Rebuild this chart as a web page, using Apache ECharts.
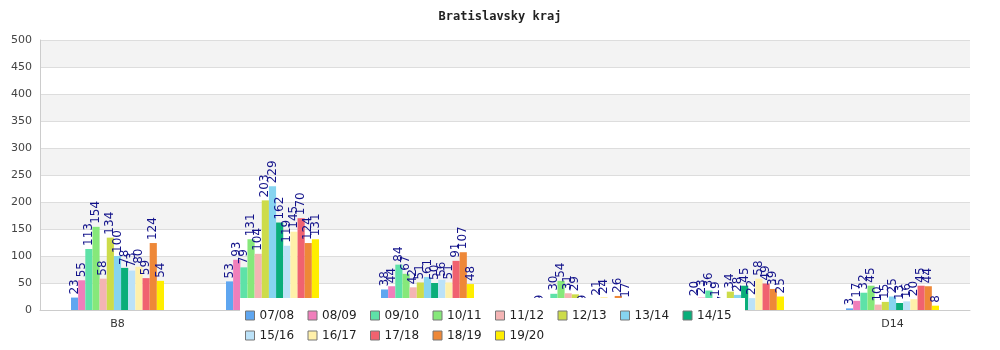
<!DOCTYPE html>
<html>
<head>
<meta charset="utf-8">
<script src="https://cdn.jsdelivr.net/npm/echarts@6/dist/echarts.min.js"></script>
<style>
  html, body { margin: 0; padding: 0; background: #fff; }
  #chart { width: 1000px; height: 350px; }
</style>
</head>
<body>
<div id="chart"></div>
<script>
// Districts (x categories)
const districts = ['B8', 'C3', 'C9', 'D2', 'D7', 'D14'];

// School years (one bar series each)
const years = ['07/08', '08/09', '09/10', '10/11', '11/12', '12/13', '13/14',
               '14/15', '15/16', '16/17', '17/18', '18/19', '19/20'];

// Values per school year, one entry per district
const y0708 = [23, 53, 38, 9, 20, 3];
const y0809 = [55, 93, 44, 3, 23, 17];
const y0910 = [113, 79, 84, 30, 36, 32];
const y1011 = [154, 131, 67, 54, 19, 45];
const y1112 = [58, 104, 42, 31, 7, 10];
const y1213 = [134, 203, 51, 29, 34, 15];
const y1314 = [100, 229, 61, 9, 28, 25];
const y1415 = [78, 162, 50, 2, 45, 13];
const y1516 = [73, 119, 56, 21, 22, 16];
const y1617 = [80, 145, 51, 24, 58, 20];
const y1718 = [59, 170, 91, 0, 49, 45];
const y1819 = [124, 124, 107, 26, 39, 44];
const y1920 = [54, 131, 48, 17, 25, 8];

const seriesValues = [y0708, y0809, y0910, y1011, y1112, y1213, y1314,
                      y1415, y1516, y1617, y1718, y1819, y1920];

const colors = ['#5fa6f0', '#f07fbb', '#5ee2a8', '#86e87a', '#f4b4b4', '#cddc4a', '#86d4f0',
                '#0aae7a', '#bce2f8', '#fff0aa', '#f06270', '#ee8838', '#ffee00'];

// Y-axis ticks
const yMin = 0, yMax = 500, yStep = 50;

const chart = echarts.init(document.getElementById('chart'), null, { renderer: 'canvas' });

const series = years.map((name, i) => ({
  name: name,
  type: 'bar',
  data: seriesValues[i],
  barGap: '0%',
  barCategoryGap: '40%',
  itemStyle: { color: colors[i] },
  label: {
    show: true,
    position: 'top',
    rotate: 90,
    align: 'left',
    verticalAlign: 'middle',
    distance: 3,
    color: '#12128a',
    fontFamily: 'DejaVu Sans',
    fontSize: 12
  }
}));

chart.setOption({
  animation: false,
  backgroundColor: '#ffffff',
  color: colors,
  title: {
    text: 'Bratislavsky kraj',
    left: 'center',
    top: 6,
    textStyle: {
      fontFamily: 'DejaVu Sans Mono',
      fontWeight: 'bold',
      fontSize: 12,
      color: '#222'
    }
  },
  grid: { left: 40, right: 30, top: 40, bottom: 40, containLabel: false },
  legend: {
    data: years,
    left: 240,
    top: 298,
    width: 502,
    padding: [10, 5, 5, 5],
    backgroundColor: '#ffffff',
    itemWidth: 9,
    itemHeight: 9,
    itemGap: 5,
    icon: 'rect',
    itemStyle: { borderColor: '#777', borderWidth: 1 },
    textStyle: {
      fontFamily: 'DejaVu Sans',
      fontSize: 12,
      color: '#222',
      width: 43,
      lineHeight: 15
    }
  },
  xAxis: {
    type: 'category',
    data: districts,
    axisLine: { lineStyle: { color: '#cccccc' } },
    axisTick: { show: false },
    axisLabel: {
      fontFamily: 'DejaVu Sans',
      fontSize: 11,
      color: '#333',
      margin: 9
    },
    z: 1
  },
  yAxis: {
    type: 'value',
    min: yMin,
    max: yMax,
    interval: yStep,
    axisLine: { show: true, lineStyle: { color: '#cccccc' } },
    axisTick: { show: false },
    axisLabel: {
      fontFamily: 'DejaVu Sans',
      fontSize: 11,
      color: '#444',
      margin: 8
    },
    splitLine: { lineStyle: { color: '#dddddd' } },
    splitArea: { show: true, areaStyle: { color: ['#ffffff', '#f3f3f3'] } }
  },
  series: series
});
</script>
</body>
</html>
